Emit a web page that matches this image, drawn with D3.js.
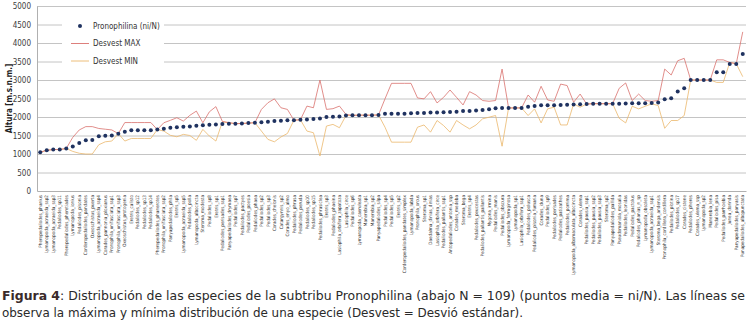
<!DOCTYPE html>
<html>
<head>
<meta charset="utf-8">
<script src="https://cdn.jsdelivr.net/npm/d3@7"></script>
<style>
  body { margin: 0; background: #fff; }
  svg { display: block; }
</style>
</head>
<body>
<svg id="chart"></svg>
<script>
// species (x categories), sorted by mean altitude
const categories = [
  "Pherepedaliodes_phanius", "Lymanopoda_acraeida_ssp2", "Lymanopoda_acraeida_ssp3", "Pedaliodes_sp11",
  "Pherepedaliodes_pheretiades", "Lymanopoda_ionius", "Pedaliodes_pisonia", "Corderopedaliodes_pandates",
  "Oxeoschistus_puerta", "Lymanopoda_acraeida_ssp4", "Corades_pannonia_ploxianus", "Pronophila_unifasciata_ssp1",
  "Pronophila_unifasciata_ssp3", "Oxeoschistus_protogenia", "Eretris_calisto", "Pedaliodes_sp12",
  "Pedaliodes_sp13", "Pedaliodes_sp14", "Pherepedaliodes_phanerotes", "Pronophila_unifasciata_ssp2",
  "Panyapedaliodes_phila", "Eretris_sp5", "Lymanopoda_acraeida_ssp5", "Pedaliodes_polla",
  "Lymanopoda_albocincta", "Steroma_modesta", "Pedaliodes_sp8", "Eretris_sp1",
  "Pedaliodes_perisades_ssp1", "Panyapedaliodes_drymaea", "Pedaliodes_sp7", "Pedaliodes_pactyes",
  "Pedaliodes_poesia", "Pedaliodes_phaea", "Pedaliodes_sp2", "Pedaliodes_sp3",
  "Corades_chelonis", "Catargynnis_sp2", "Corades_enyo_almo", "Pedaliodes_phrasa",
  "Pedaliodes_peruda", "Pedaliodes_sp10", "Pedaliodes_sp15", "Pedaliodes_phrasiclea",
  "Eretris_sp3", "Pedaliodes_phaeina", "Lasiophila_orbifera_zapatoza", "Lasiophila_circe",
  "Pedaliodes_sp6", "Lymanopoda_caeruleata", "Manerebia_sp1", "Manerebia_sp2",
  "Panyapedaliodes_silpa", "Pedaliodes_sp4", "Pedaliodes_sp5", "Eretris_sp2",
  "Corderopedaliodes_pandates_simplex", "Lymanopoda_labda", "Pronophila_orcus", "Steroma_sp1",
  "Daedalma_dinias_dinias", "Lasiophila_orbifera_circe", "Pedaliodes_pallantis_ssp1", "Antopedaliodes_antonia_ssp",
  "Corades_medeba", "Steroma_bega", "Eretris_sp4", "Pedaliodes_peucestas",
  "Pedaliodes_pallantis_pallantis", "Mygona_irmina", "Pedaliodes_manis", "Pedaliodes_obscura",
  "Lymanopoda_ferruginosa", "Lymanopoda_sp1", "Lasiophila_orbifera_ssp1", "Pedaliodes_polusca",
  "Pedaliodes_pisonia_fumaria", "Corades_iduna", "Pedaliodes_sp9", "Pedaliodes_perisades",
  "Pedaliodes_patizathes", "Pedaliodes_porrima", "Lymanopoda_albomaculata_albocincta", "Corades_ulema",
  "Pedaliodes_pausia_ssp1", "Pedaliodes_pausia_ssp2", "Pedaliodes_pausia_ssp3", "Steroma_sp2",
  "Panyapedaliodes_pallida", "Pseudomaniola_mosalia", "Pedaliodes_leonidas", "Pedaliodes_pactolus",
  "Pedaliodes_phanias_n_sp", "Lymanopoda_obsoleta", "Lymanopoda_acraeida_ssp1", "Steroma_bega_andensis",
  "Pronophila_cordillera_cordillera", "Pedaliodes_plotina", "Pedaliodes_sp17", "Corades_cistene",
  "Pedaliodes_pheres", "Corades_ulema_ssp", "Lymanopoda_sp2", "Manerebia_lena",
  "Pedaliodes_pisa", "Pedaliodes_parrhoebia", "Junea_dorinda", "Panyapedaliodes_panyasis",
  "Punapedaliodes_albopunctata"
];

// mean altitude (ni/N)
const meanVals = [
  1050, 1100, 1120, 1120, 1150, 1200, 1300, 1370, 1380, 1480,
  1490, 1500, 1550, 1600, 1640, 1640, 1640, 1640, 1660, 1680,
  1710, 1720, 1735, 1745, 1765, 1775, 1790, 1800, 1810, 1820,
  1820, 1825, 1835, 1845, 1855, 1870, 1890, 1900, 1910, 1915,
  1925, 1935, 1945, 1960, 2000, 2005, 2015, 2040, 2045, 2050,
  2050, 2050, 2055, 2090, 2090, 2090, 2090, 2100, 2110, 2110,
  2120, 2120, 2130, 2135, 2145, 2160, 2165, 2175, 2190, 2210,
  2235, 2245, 2245, 2245, 2245, 2280, 2300, 2315, 2315, 2320,
  2325, 2330, 2340, 2345, 2350, 2360, 2360, 2360, 2360, 2360,
  2365, 2370, 2370, 2375, 2380, 2390, 2480, 2505, 2690, 2775,
  3000, 3000, 3000, 3000, 3210, 3210, 3430, 3430, 3700
];

// Desvest MAX
const maxVals = [
  1050, 1100, 1120, 1120, 1150, 1450, 1650, 1740, 1740, 1690,
  1670, 1650, 1550, 1850, 1850, 1850, 1850, 1850, 1660, 1845,
  1910, 1980, 1890, 2045, 2160, 1845, 2140, 2280, 1880, 1850,
  1820, 1825, 1835, 1845, 2205, 2385, 2490, 2250, 2205, 1915,
  1925, 2295, 2250, 3000, 2205, 2225, 2295, 2070, 2045, 2050,
  2050, 2050, 2055, 2490, 2910, 2910, 2910, 2910, 2515, 2490,
  2685, 2380, 2530, 2730, 2530, 2325, 2685, 2595, 2445, 2425,
  2445, 3295, 2245, 2245, 2245, 2595, 2400, 2830, 2460, 2425,
  2890, 2850, 2400, 2620, 2350, 2360, 2360, 2360, 2360, 2775,
  2920, 2445, 2620, 2445, 2425, 2445, 3295, 3135, 3520, 3585,
  3000, 3000, 3000, 3000, 3545, 3545, 3475, 3440, 4300
];

// Desvest MIN
const minVals = [
  1050, 1100, 1120, 1120, 1150, 1070, 1020, 1000, 1000, 1250,
  1330, 1350, 1550, 1350, 1420, 1420, 1420, 1420, 1660, 1620,
  1505, 1465, 1530, 1500, 1370, 1665, 1485, 1350, 1870, 1840,
  1820, 1825, 1835, 1845, 1620, 1395, 1330, 1460, 1555, 1915,
  1925, 1620, 1575, 945, 1755, 1800, 1710, 2040, 2045, 2050,
  2050, 2050, 2055, 1725, 1320, 1320, 1320, 1320, 1725, 1785,
  1590, 1905, 1770, 1590, 1905, 1785, 1680, 1785, 1950, 1995,
  2040, 1210, 2245, 2245, 2245, 2040, 2220, 1840, 2220, 2265,
  1785, 1785, 2355, 2265, 2350, 2360, 2360, 2360, 2360, 1965,
  1840, 2290, 2220, 2290, 2355, 2310, 1695, 1905, 1905, 2040,
  3000, 3000, 3000, 3000, 2935, 2935, 3475, 3440, 3090
];

const yTicks = d3.range(0, 5001, 500);

const seriesNames = ["Pronophilina (ni/N)", "Desvest MAX", "Desvest MIN"];

const width = 750;
const height = 325;
const plot = { left: 37, right: 746, top: 6, bottom: 191 };

const colMean = "#1f3260";
const colMax = "#d9716d";
const colMin = "#ebb76c";
const font = "'Liberation Sans Narrow', 'DejaVu Sans Condensed', 'Liberation Sans', sans-serif";

const svg = d3.select("#chart")
  .attr("width", width)
  .attr("height", height)
  .attr("viewBox", `0 0 ${width} ${height}`);

svg.append("rect").attr("width", width).attr("height", height).attr("fill", "#fff");

const idx = d3.range(categories.length);

const x = d3.scaleBand()
  .domain(idx)
  .range([plot.left, plot.right]);

const y = d3.scaleLinear()
  .domain([0, 5000])
  .range([plot.bottom, plot.top]);

const cx = (i) => x(i) + x.bandwidth() / 2;

// gridlines
svg.append("g")
  .attr("transform", `translate(${plot.left},0)`)
  .call(d3.axisLeft(y).tickValues(yTicks.slice(1)).tickSize(-(plot.right - plot.left)).tickFormat(""))
  .call((g) => g.select(".domain").remove())
  .call((g) => g.selectAll("line").attr("stroke", "#c4c4c4").attr("stroke-width", 1));

// y axis
svg.append("g")
  .attr("transform", `translate(${plot.left},0)`)
  .call(d3.axisLeft(y).tickValues(yTicks).tickSize(0).tickPadding(6).tickFormat(d3.format("d")))
  .call((g) => g.select(".domain").attr("stroke", "#b0b0b0"))
  .call((g) => g.selectAll("text")
    .style("font-family", font)
    .style("font-size", "8px")
    .attr("fill", "#404040"));

// x axis with vertical species labels
svg.append("g")
  .attr("transform", `translate(0,${plot.bottom})`)
  .call(d3.axisBottom(x).tickSize(0).tickFormat((i) => categories[i]))
  .call((g) => g.select(".domain").attr("stroke", "#b0b0b0"))
  .call((g) => g.selectAll("text")
    .attr("transform", "rotate(-90)")
    .attr("x", -4)
    .attr("y", 0)
    .attr("dy", "0.35em")
    .style("text-anchor", "end")
    .style("font-family", font)
    .style("font-size", "4.6px")
    .attr("fill", "#333"));

// y title
svg.append("text")
  .attr("transform", `translate(9,${(plot.top + plot.bottom) / 2}) rotate(-90)`)
  .attr("text-anchor", "middle")
  .attr("dy", "0.35em")
  .style("font-family", font)
  .style("font-size", "8px")
  .style("font-weight", "bold")
  .attr("fill", "#222")
  .text("Altura [m.s.n.m.]");

// legend box (white, hides gridlines)
const lg = svg.append("g").attr("transform", "translate(62,16)");
lg.append("rect").attr("width", 102).attr("height", 54).attr("fill", "#fff");

const legendRows = [
  { name: seriesNames[0], type: "dot", color: colMean },
  { name: seriesNames[1], type: "line", color: colMax },
  { name: seriesNames[2], type: "line", color: colMin }
];
legendRows.forEach((r, k) => {
  const ly = 10 + k * 17.5;
  if (r.type === "dot") {
    lg.append("circle").attr("cx", 18).attr("cy", ly).attr("r", 2).attr("fill", r.color);
  } else {
    lg.append("line").attr("x1", 9).attr("x2", 27).attr("y1", ly).attr("y2", ly)
      .attr("stroke", r.color).attr("stroke-width", 0.9);
  }
  lg.append("text")
    .attr("x", 31)
    .attr("y", ly)
    .attr("dy", "0.35em")
    .style("font-family", font)
    .style("font-size", "8px")
    .attr("fill", "#333")
    .text(r.name);
});

// max / min lines
const lineGen = (vals) => d3.line()
  .x((i) => cx(i))
  .y((i) => y(vals[i]))(idx);

svg.append("path")
  .attr("d", lineGen(minVals))
  .attr("fill", "none")
  .attr("stroke", colMin)
  .attr("stroke-width", 0.8);

svg.append("path")
  .attr("d", lineGen(maxVals))
  .attr("fill", "none")
  .attr("stroke", colMax)
  .attr("stroke-width", 0.8);

// mean points
svg.append("g")
  .selectAll("circle")
  .data(idx)
  .join("circle")
  .attr("cx", (i) => cx(i))
  .attr("cy", (i) => y(meanVals[i]))
  .attr("r", 2)
  .attr("fill", colMean);

// caption
const cap = svg.append("g")
  .style("font-family", font)
  .style("font-size", "12.5px")
  .style("white-space", "pre")
  .attr("fill", "#2a2a2a");

const c1 = cap.append("text")
  .attr("x", 2)
  .attr("y", 300)
  .attr("textLength", 743)
  .attr("lengthAdjust", "spacingAndGlyphs");
c1.append("tspan").style("font-weight", "bold").attr("fill", "#3a2a2a").text("Figura 4");
c1.append("tspan").text(": Distribución de las especies de la subtribu  Pronophilina (abajo N = 109) (puntos media = ni/N). Las líneas se");

cap.append("text")
  .attr("x", 2)
  .attr("y", 317)
  .attr("textLength", 521)
  .attr("lengthAdjust", "spacingAndGlyphs")
  .text("observa la  máxima y mínima distribución de una especie (Desvest = Desvió estándar).");
</script>
</body>
</html>
